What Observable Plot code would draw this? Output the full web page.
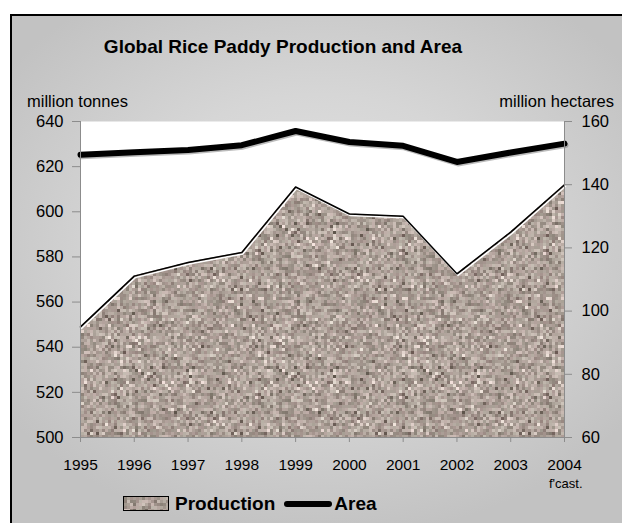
<!DOCTYPE html>
<html><head><meta charset="utf-8">
<script src="https://cdn.jsdelivr.net/npm/d3@7"></script>
<script src="https://cdn.jsdelivr.net/npm/@observablehq/plot@0.6"></script>
<style>
html,body{margin:0;padding:0;background:#fff;width:622px;height:523px;overflow:hidden;font-family:"Liberation Sans",Arial,sans-serif}
#frame{position:absolute;left:10px;top:14px;width:640px;height:540px;border-left:2px solid #000;border-top:2px solid #000;
 background:radial-gradient(ellipse 60% 55% at 48% 42%, #e4e4e4 0%, #d6d6d6 50%, #c2c2c2 100%)}
#chart{position:absolute;left:0;top:0}
.t{position:absolute;white-space:nowrap;color:#000;line-height:1}
</style></head><body>
<div id="frame"></div>
<div id="chart"></div>
<div class="t" style="left:0;width:566px;top:37px;text-align:center;font-weight:bold;font-size:19px">Global Rice Paddy Production and Area</div>
<div class="t" style="left:27px;top:93px;font-size:16.5px">million tonnes</div>
<div class="t" style="right:8px;top:93px;font-size:16.5px">million hectares</div>
<div class="t" style="left:549px;top:477px;font-size:13px">f'cast.</div>
<div id="legend" class="t" style="left:123px;top:494px;font-size:19px;font-weight:bold;display:flex;align-items:center">
  <span id="swatch" style="display:inline-block;width:44px;height:13px;border:1px solid #000;margin-right:6px"></span>
  <span>Production</span>
  <span style="display:inline-block;width:48px;height:6px;background:#000;border-radius:3px;margin:0 2px 0 9px"></span>
  <span>Area</span>
</div>
<script>
const years = [1995, 1996, 1997, 1998, 1999, 2000, 2001, 2002, 2003, 2004];
const production = [549, 571.5, 577.5, 582, 611, 599, 598, 572.5, 591, 612]; // million tonnes
const area = [149.5, 150.3, 151, 152.5, 157, 153.5, 152.3, 147.2, 150.2, 153]; // million hectares
const leftTicks = [500, 520, 540, 560, 580, 600, 620, 640];
const rightTicks = [60, 80, 100, 120, 140, 160];

// map right axis (hectares 60..160) onto left scale (tonnes 500..640)
const toLeft = v => 500 + (v - 60) * 1.4;
const toRight = v => Math.round((v - 500) / 1.4 + 60);

const prodData = years.map((y, i) => ({year: y, value: production[i]}));
const areaData = years.map((y, i) => ({year: y, value: toLeft(area[i])}));

// speckled texture tile (deterministic hash, styling only)
const cell = 3, n = 48;
const cv = document.createElement("canvas");
cv.width = cv.height = cell * n;
const ctx = cv.getContext("2d");
let s = 0x9e3779b9;
function rnd() {
  s |= 0; s = s + 0x6D2B79F5 | 0;
  let t = Math.imul(s ^ s >>> 15, 1 | s);
  t = t + Math.imul(t ^ t >>> 7, 61 | t) ^ t;
  return ((t ^ t >>> 14) >>> 0) / 4294967296;
}
for (let i = 0; i < n; i++) for (let j = 0; j < n; j++) {
  const t = (rnd() + rnd()) / 2;
  let L = 162 + (t - 0.5) * 95;
  if (rnd() < 0.035) L = 85 + rnd() * 35;
  if (rnd() < 0.03) L = 210 + rnd() * 20;
  const tint = (rnd() - 0.5) * 10;
  const r = Math.round(L + 12 + tint), g = Math.round(L - 1), b = Math.round(L - 9 + tint * 0.5);
  ctx.fillStyle = `rgb(${r},${g},${b})`;
  ctx.fillRect(i * cell, j * cell, cell, cell);
}
const tex = cv.toDataURL();
document.getElementById("swatch").style.background = `url(${tex})`;

const chart = Plot.plot({
  width: 622, height: 523,
  marginLeft: 80, marginRight: 58, marginTop: 121, marginBottom: 86,
  style: {background: "transparent", fontFamily: "'Liberation Sans', Arial, sans-serif", fontSize: "16px", color: "#000", overflow: "visible"},
  x: {domain: [1995, 2004]},
  y: {domain: [500, 640]},
  marks: [
    Plot.frame({fill: "white", stroke: null}),
    Plot.areaY(prodData, {x: "year", y1: 500, y2: "value", fill: "url(#riceTex)"}),
    Plot.lineY(prodData, {x: "year", y: "value", stroke: "white", strokeWidth: 1.5, dx: 1, dy: 1.5}),
    Plot.lineY(prodData, {x: "year", y: "value", stroke: "black", strokeWidth: 1.5}),
    Plot.lineY(areaData, {x: "year", y: "value", stroke: "#777", strokeOpacity: 0.5, strokeWidth: 6, dx: 1, dy: 1.5}),
    Plot.lineY(areaData, {x: "year", y: "value", stroke: "black", strokeWidth: 6}),
    Plot.ruleX([1995], {stroke: "#8c8c8c"}),
    Plot.ruleX([2004], {stroke: "#8c8c8c"}),
    Plot.ruleY([500], {stroke: "#8c8c8c"}),
    Plot.axisY(leftTicks, {anchor: "left", tickSize: 8, tickPadding: 9, stroke: "#8c8c8c", fontSize: 16.5, label: null}),
    Plot.axisY(rightTicks.map(toLeft), {anchor: "right", tickFormat: toRight, tickSize: 7, tickPadding: 10, stroke: "#8c8c8c", fontSize: 16.5, label: null}),
    Plot.axisX(years, {anchor: "bottom", tickFormat: d => String(d), tickSize: 5, tickPadding: 16, stroke: "#8c8c8c", fontSize: 15.5, label: null})
  ]
});

const ns = "http://www.w3.org/2000/svg";
const defs = document.createElementNS(ns, "defs");
const pat = document.createElementNS(ns, "pattern");
pat.setAttribute("id", "riceTex");
pat.setAttribute("patternUnits", "userSpaceOnUse");
pat.setAttribute("width", cell * n);
pat.setAttribute("height", cell * n);
const img = document.createElementNS(ns, "image");
img.setAttribute("href", tex);
img.setAttribute("width", cell * n);
img.setAttribute("height", cell * n);
pat.appendChild(img);
defs.appendChild(pat);
chart.insertBefore(defs, chart.firstChild);
document.getElementById("chart").appendChild(chart);
</script>
</body></html>
